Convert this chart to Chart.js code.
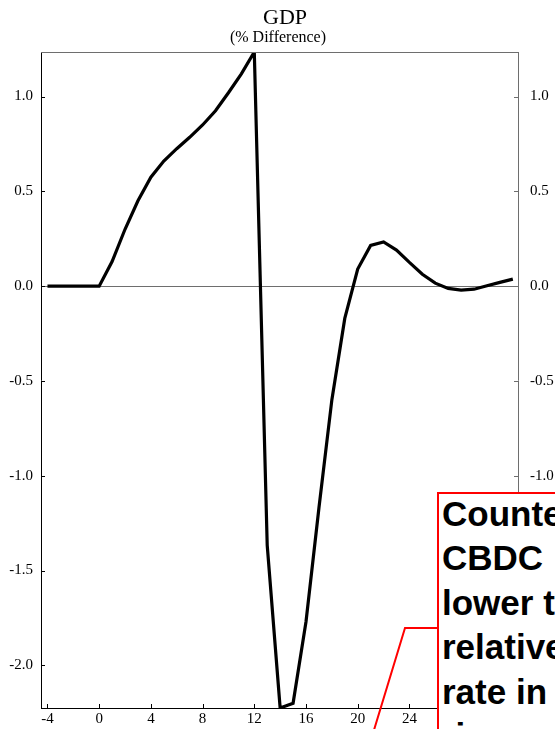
<!DOCTYPE html>
<html>
<head>
<meta charset="utf-8">
<script src="https://cdn.jsdelivr.net/npm/chart.js@4/dist/chart.umd.min.js"></script>
<style>
  html, body { margin: 0; padding: 0; background: #fff; overflow: hidden; }
  #wrap { position: relative; width: 555px; height: 729px; overflow: hidden; }
  #note {
    position: absolute;
    left: 437px;
    top: 492px;
    width: 200px;
    height: 300px;
    box-sizing: border-box;
    border: 2px solid #ff0000;
    background: #fff;
    padding: 0 0 0 3px;
    font: bold 35px "Liberation Sans", Arial, sans-serif;
    line-height: 44.4px;
    color: #000;
    white-space: nowrap;
  }
  #note div { margin-top: -2px; }
</style>
</head>
<body>
<div id="wrap">
  <canvas id="gdpChart" width="555" height="729"></canvas>
  <div id="note"><div>Counterfactual<br>CBDC<br>lower the<br>relative<br>rate in<br>rises</div></div>
</div>
<script>
// quarters after the shock
const quarters = [-4, -3, -2, -1, 0, 1, 2, 3, 4, 5, 6, 7, 8, 9, 10, 11, 12,
  13, 14, 15, 16, 17, 18, 19, 20, 21, 22, 23, 24, 25, 26, 27, 28, 29, 30, 31, 32];
// GDP, % difference
const gdpDiff = [0, 0, 0, 0, 0, 0.13, 0.30, 0.45, 0.575, 0.66, 0.725, 0.785, 0.85, 0.925, 1.02, 1.12, 1.235,
  -1.367, -2.225, -2.2, -1.77, -1.17, -0.6, -0.17, 0.09, 0.215, 0.233, 0.19, 0.125, 0.063, 0.016,
  -0.012, -0.021, -0.016, 0.002, 0.02, 0.037];
const xTicks = [-4, 0, 4, 8, 12, 16, 20, 24, 28, 32];
const yTicks = [-2.0, -1.5, -1.0, -0.5, 0.0, 0.5, 1.0];

const serif = "'Liberation Serif', 'Times New Roman', serif";

// titles, inward tick marks, top frame line and the red callout line
const framePlugin = {
  id: "framePlugin",
  afterDatasetsDraw(chart) {
    const { ctx, chartArea: a, scales } = chart;
    ctx.save();
    ctx.lineWidth = 1;

    ctx.strokeStyle = "#6e6e6e";
    ctx.beginPath();
    ctx.moveTo(a.left, a.top + 0.5);
    ctx.lineTo(a.right, a.top + 0.5);
    ctx.stroke();

    ctx.strokeStyle = "#000";
    ctx.beginPath();
    scales.x.ticks.forEach(t => {
      const px = Math.round(scales.x.getPixelForValue(t.value)) + 0.5;
      ctx.moveTo(px, a.bottom);
      ctx.lineTo(px, a.bottom - 4);
    });
    scales.y.ticks.forEach(t => {
      const py = Math.round(scales.y.getPixelForValue(t.value)) + 0.5;
      ctx.moveTo(a.left, py);
      ctx.lineTo(a.left + 4, py);
    });
    ctx.stroke();

    ctx.strokeStyle = "#6e6e6e";
    ctx.beginPath();
    scales.y2.ticks.forEach(t => {
      const py = Math.round(scales.y2.getPixelForValue(t.value)) + 0.5;
      ctx.moveTo(a.right, py);
      ctx.lineTo(a.right - 4, py);
    });
    ctx.stroke();
    ctx.restore();
  },
  afterDraw(chart) {
    const ctx = chart.ctx;
    ctx.save();
    ctx.fillStyle = "#000";
    ctx.textAlign = "center";
    ctx.textBaseline = "alphabetic";
    ctx.font = "22px " + serif;
    ctx.fillText("GDP", 285, 24);
    ctx.font = "16px " + serif;
    ctx.fillText("(% Difference)", 278, 42);

    ctx.strokeStyle = "#ff0000";
    ctx.lineWidth = 2;
    ctx.beginPath();
    ctx.moveTo(438, 628);
    ctx.lineTo(405, 628);
    ctx.lineTo(374, 730);
    ctx.stroke();
    ctx.restore();
  }
};

const setTicks = values => scale => {
  scale.ticks = values.map(v => ({ value: v }));
};

new Chart(document.getElementById("gdpChart"), {
  type: "line",
  data: {
    datasets: [{
      data: quarters.map((q, i) => ({ x: q, y: gdpDiff[i] })),
      borderColor: "#000",
      borderWidth: 3.2,
      pointRadius: 0,
      tension: 0,
      fill: false
    }]
  },
  options: {
    responsive: false,
    animation: false,
    devicePixelRatio: 1,
    layout: { padding: { top: 52 } },
    plugins: {
      legend: { display: false },
      tooltip: { enabled: false },
      title: { display: false }
    },
    scales: {
      x: {
        type: "linear",
        min: -4.5,
        max: 32.4,
        afterBuildTicks: setTicks(xTicks),
        afterFit: s => { s.height = 20; },
        grid: { display: false, drawTicks: false },
        border: { color: "#000", width: 1 },
        ticks: { color: "#000", padding: 2, font: { family: serif, size: 15 } }
      },
      y: {
        position: "left",
        min: -2.225,
        max: 1.235,
        afterBuildTicks: setTicks(yTicks),
        afterFit: s => { s.width = 41; },
        grid: {
          drawTicks: false,
          color: c => (c.tick && c.tick.value === 0 ? "#6e6e6e" : "rgba(0,0,0,0)")
        },
        border: { color: "#000", width: 1 },
        ticks: { color: "#000", padding: 8, font: { family: serif, size: 15 }, callback: v => v.toFixed(1) }
      },
      y2: {
        position: "right",
        min: -2.225,
        max: 1.235,
        afterBuildTicks: setTicks(yTicks),
        afterFit: s => { s.width = 37; },
        grid: { display: false, drawTicks: false },
        border: { color: "#6e6e6e", width: 1 },
        ticks: { color: "#000", padding: 12, font: { family: serif, size: 15 }, callback: v => v.toFixed(1) }
      }
    }
  },
  plugins: [framePlugin]
});
</script>
</body>
</html>
